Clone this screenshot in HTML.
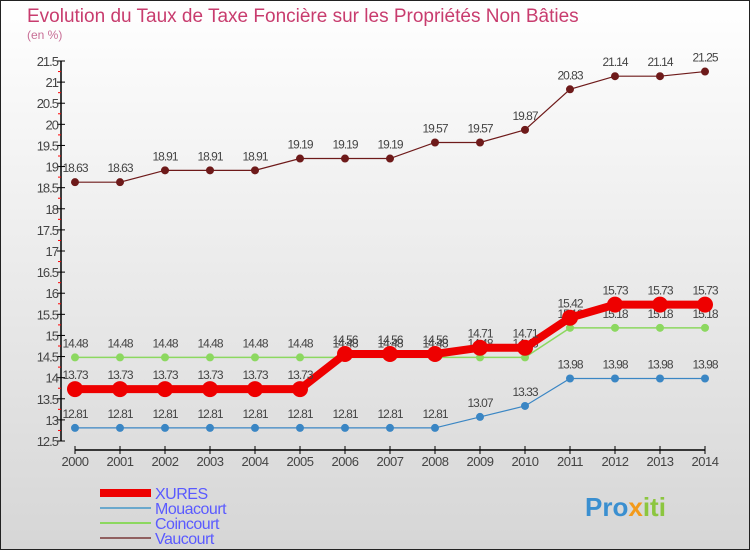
<!DOCTYPE html>
<html><head><meta charset="utf-8"><style>
html,body{margin:0;padding:0}
body{width:750px;height:550px;overflow:hidden;font-family:"Liberation Sans",sans-serif}
</style></head><body>
<svg width="750" height="550" xmlns="http://www.w3.org/2000/svg">
<defs><linearGradient id="bg" x1="0" y1="0" x2="0" y2="1"><stop offset="0" stop-color="#ffffff"/><stop offset="1" stop-color="#d6d6d6"/></linearGradient></defs>
<rect x="0.5" y="0.5" width="749" height="549" fill="url(#bg)" stroke="#222"/>
<text x="27" y="22" font-size="19" fill="#c83c6e">Evolution du Taux de Taxe Foncière sur les Propriétés Non Bâties</text>
<text x="27" y="39" font-size="12" fill="#c86e96">(en %)</text>
<g id="axes"></g>
<g id="series"></g>
<g id="legend"></g>
<text x="585" y="516" font-size="26" font-weight="bold"><tspan fill="#3a8fd0">Pro</tspan><tspan fill="#f39a1a">x</tspan><tspan fill="#8cc63f">iti</tspan></text>
</svg>
<script>
const years=[2000,2001,2002,2003,2004,2005,2006,2007,2008,2009,2010,2011,2012,2013,2014];
const yTicks=[12.5,13,13.5,14,14.5,15,15.5,16,16.5,17,17.5,18,18.5,19,19.5,20,20.5,21,21.5];
const xures=[13.73,13.73,13.73,13.73,13.73,13.73,14.56,14.56,14.56,14.71,14.71,15.42,15.73,15.73,15.73];
const mouacourt=[12.81,12.81,12.81,12.81,12.81,12.81,12.81,12.81,12.81,13.07,13.33,13.98,13.98,13.98,13.98];
const coincourt=[14.48,14.48,14.48,14.48,14.48,14.48,14.48,14.48,14.48,14.48,14.48,15.18,15.18,15.18,15.18];
const vaucourt=[18.63,18.63,18.91,18.91,18.91,19.19,19.19,19.19,19.57,19.57,19.87,20.83,21.14,21.14,21.25];
const NS="http://www.w3.org/2000/svg";
const X=i=>75+i*45;
const Y=v=>441-(v-12.5)*(380/9);
function mk(t,a,p){const e=document.createElementNS(NS,t);for(const k in a)e.setAttribute(k,a[k]);(p||document.getElementById('axes')).appendChild(e);return e;}
let e=mk('line',{x1:61,y1:Y(21.5),x2:61,y2:Y(12.5),stroke:'#000','stroke-width':1.5});


e=mk('line',{x1:X(0),y1:450,x2:X(14),y2:450,stroke:'#000','stroke-width':1.5});


yTicks.forEach((v,i)=>{
 mk('line',{x1:57,y1:Y(v),x2:65,y2:Y(v),stroke:'#000'});
 if(i<yTicks.length-1)mk('line',{x1:58,y1:Y(v+0.25),x2:61,y2:Y(v+0.25),stroke:'#f00'});
 const t=mk('text',{x:58,y:Y(v)+5,'font-size':13,fill:'#444','text-anchor':'end','letter-spacing':'-1'});
 t.textContent=v;
 
 
});
years.forEach((yr,i)=>{
 mk('line',{x1:X(i),y1:446,x2:X(i),y2:454,stroke:'#000'});
 const t=mk('text',{x:X(i),y:466,'font-size':13,fill:'#444','text-anchor':'middle','letter-spacing':'-0.5'});
 t.textContent=yr;
 
 
});
const sg=document.getElementById('series');
function series(name,data,color,w,r){
 const g=mk('g',{},sg);
 
 
 mk('polyline',{points:data.map((v,i)=>X(i)+','+Y(v)).join(' '),fill:'none',stroke:color,'stroke-width':w},g);
 data.forEach((v,i)=>{
  const c=mk('circle',{cx:X(i),cy:Y(v),r:r,fill:color},g);
  
  
  const t=mk('text',{x:X(i),y:Y(v)-10,'font-size':12,fill:'#444','text-anchor':'middle','letter-spacing':'-1'},g);
  t.textContent=v;
  
  
 });
}
series('vaucourt',vaucourt,'#6e1a1a',1.2,4);
series('coincourt',coincourt,'#8cd860',1.5,4);
series('mouacourt',mouacourt,'#3a86c4',1.2,4);
series('xures',xures,'#ee0000',8,8);
const lg=document.getElementById('legend');
[['XURES','#ee0000',8],['Mouacourt','#6aa8cc',2],['Coincourt','#8cd860',2],['Vaucourt','#906060',2]].forEach((d,i)=>{
 const y=493+i*15;
 const g=mk('g',{},lg);
 
 
 mk('line',{x1:100,y1:y,x2:151,y2:y,stroke:d[1],'stroke-width':d[2]},g);
 const t=mk('text',{x:155,y:y+6,'font-size':16,fill:'#5a5aff','letter-spacing':'-0.5'},g);
 t.textContent=d[0];
});
</script>
</body></html>
